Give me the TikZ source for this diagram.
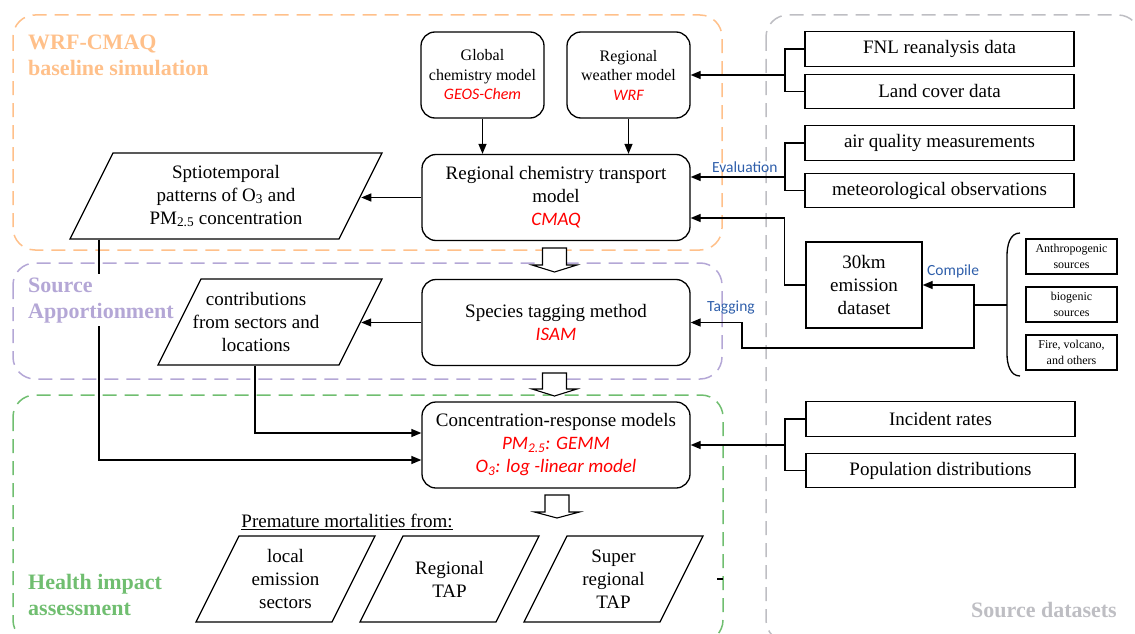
\documentclass[tikz,border=0pt]{standalone}
\usepackage{fontspec}
\setmainfont{Liberation Serif}
\newfontfamily\calibfont{Carlito}
\usetikzlibrary{arrows.meta,shapes.geometric,calc}

\definecolor{wrforange}{RGB}{255,192,138}
\definecolor{sapurple}{RGB}{180,167,214}
\definecolor{hiagreen}{RGB}{112,190,112}
\definecolor{srcgray}{RGB}{190,190,195}
\definecolor{lblblue}{RGB}{46,94,170}

% red italic model names
\newcommand\mdl[1]{{\color{red}\calibfont\itshape #1}}
% fixed-height text block for the parallelograms (width of the inner box)
\newcommand\paratext[2]{\parbox[c][86pt][c]{#1}{\centering #2}}

% hollow block arrow: centre x, top y, head start y, tip y
\newcommand\hollowdown[4]{%
  \draw[line width=1.1pt, fill=white] (#1-12,#2) -- (#1+12,#2) -- (#1+12,#3)
    -- (#1+22.5,#3) -- (#1,#4) -- (#1-22.5,#3) -- (#1-12,#3) -- cycle;}

\tikzset{
  box/.style={draw, line width=1.3pt, inner sep=0pt, align=center,
    font=\fontsize{19}{23}\selectfont},
  roundbox/.style={box, rounded corners=14pt, minimum width=268pt, minimum height=86pt},
  smallround/.style={box, rounded corners=14pt, minimum width=123pt, minimum height=86pt,
    font=\fontsize{16}{19.5}\selectfont},
  databox/.style={box, minimum width=269pt, minimum height=34.5pt},
  srcbox/.style={box, minimum width=91pt, minimum height=35pt,
    font=\fontsize{12}{16}\selectfont},
  para/.style={box, trapezium, trapezium left angle=63.43, trapezium right angle=116.57},
  arr/.style={line width=1.3pt, -{Triangle[length=10pt,width=8pt]}},
  conn/.style={line width=1.3pt},
  groupframe/.style={line width=1.5pt, dash pattern=on 14pt off 8pt, rounded corners=22pt},
  grouptitle/.style={font=\bfseries\fontsize{22}{26}\selectfont, align=left, inner sep=0pt},
  lbl/.style={font=\calibfont\fontsize{15.5}{18}\selectfont, text=lblblue, inner sep=0pt}
}

\begin{document}
\begin{tikzpicture}[x=1pt, y=-1pt]
  \useasboundingbox (0,0) rectangle (1135,634);

  % group frames
  \draw[groupframe, wrforange] (13,15) rectangle (722,250);
  \draw[groupframe, sapurple] (13,263) rectangle (722,379);
  \draw[groupframe, hiagreen] (13,395) rectangle (723,642);
  \draw[groupframe, srcgray] (766,15) rectangle (1140,642);

  % group titles (base = last line)
  \node[grouptitle, text=wrforange, anchor=base west] (twrf) at (28,76) {WRF-CMAQ\\baseline simulation};
  \node[grouptitle, text=hiagreen, anchor=base west] (thia) at (28,615.5) {Health impact\\assessment};
  \node[grouptitle, text=srcgray, anchor=base east] (tsrc) at (1117,617) {Source datasets};

  % model chain
  \node[smallround] (gcm) at (482.5,75) {Global\\chemistry model\\\mdl{GEOS-Chem}};
  \node[smallround] (rwm) at (628.5,75) {Regional\\weather model\\\mdl{WRF}};
  \node[roundbox] (cmaq) at (556,197.5) {Regional chemistry transport\\model\\\mdl{CMAQ}};
  \node[para] (spt) at (226,196)
    {\paratext{226pt}{Sptiotemporal\\patterns of O\textsubscript{3} and\\PM\textsubscript{2.5} concentration}};
  \node[roundbox] (stm) at (556,322.5) {Species tagging method\\\mdl{ISAM}};
  \node[para] (ctb) at (270,322)
    {\paratext{138pt}{\makebox[138pt]{contributions\hspace*{28pt}}\\
      \makebox[138pt]{from sectors and\hspace*{28pt}}\\\makebox[138pt]{locations\hspace*{28pt}}}};
  \node[roundbox] (crm) at (556,445)
    {Concentration-response models\\\mdl{PM\textsubscript{2.5}: GEMM}\\\mdl{O\textsubscript{3}: log -linear model}};

  % mortality outputs
  \node[font=\fontsize{19}{23}\selectfont, inner sep=0pt] (pmf) at (347,522) {\underline{Premature mortalities from:}};
  \node[para] (les) at (285.5,579) {\paratext{93pt}{local\\emission\\sectors}};
  \node[para] (rtap) at (449.5,579) {\paratext{93pt}{Regional\\TAP}};
  \node[para] (stap) at (613.5,579) {\paratext{93pt}{Super\\regional\\TAP}};

  % source datasets
  \node[databox] (fnl) at (939.5,49) {FNL reanalysis data};
  \node[databox] (lcd) at (939.5,91.5) {Land cover data};
  \node[databox] (aqm) at (939.5,143) {air quality measurements};
  \node[databox] (mob) at (939.5,190.5) {meteorological observations};
  \node[box, minimum width=116pt, minimum height=86pt] (emi) at (864,285) {30km\\emission\\dataset};
  \node[srcbox] (ant) at (1071.5,256.5) {Anthropogenic\\sources};
  \node[srcbox] (bio) at (1071.5,304.5) {biogenic\\sources};
  \node[srcbox] (fvo) at (1071.5,352.5) {Fire, volcano,\\and others};
  \node[databox] (inr) at (940.5,419) {Incident rates};
  \node[databox] (pod) at (940.5,470.5) {Population distributions};

  % block arrows between stages
  \hollowdown{554.5}{248}{265}{272}
  \hollowdown{554.5}{373}{389}{396}
  \hollowdown{557}{495}{512}{518}

  % connectors
  \draw[arr] (gcm.south) -- (gcm.south |- cmaq.north);
  \draw[arr] (rwm.south) -- (rwm.south |- cmaq.north);
  \draw[arr] (cmaq.west) -- (cmaq.west -| spt.east);
  \draw[arr] (stm.west) -- (stm.west -| ctb.east);

  \coordinate (jfnl) at (785,75);
  \draw[conn] (fnl.west) -| (jfnl) |- (lcd.west);
  \draw[arr] (jfnl) -- (rwm.east);

  \coordinate (jaqm) at (785,177);
  \draw[conn] (aqm.west) -| (jaqm) |- (mob.west);
  \draw[arr] (jaqm) -- (jaqm -| cmaq.east);
  \node[lbl, anchor=base west] (leval) at (712,172) {Evaluation};

  \draw[arr] (emi.west) -- ++(-21,0) |- ([yshift=-20.5pt]cmaq.east);

  % emission sources brace
  \draw[conn] (1020,233) to[out=180,in=90] (1007,256) -- (1007,354) to[out=-90,in=180] (1020,376);
  \coordinate (jbrc) at (1007,305);
  \coordinate (jcmp) at (974,305);
  \coordinate (jtag) at (742,348);
  \draw[arr] (jbrc) -- (jcmp) |- (emi.east);
  \draw[arr] (jcmp) |- (jtag) |- (stm.east);
  \node[lbl, anchor=base west] (lcmp) at (927,275) {Compile};
  \node[lbl, anchor=base west] (ltag) at (707,311) {Tagging};

  \coordinate (jinr) at (785,445);
  \draw[conn] (inr.west) -| (jinr) |- (pod.west);
  \draw[arr] (jinr) -- (crm.east);

  \draw[arr] ([xshift=98pt]ctb.bottom left corner) |- ([yshift=12pt]crm.west);
  \draw[arr] ([xshift=30pt]spt.bottom left corner) |- ([yshift=-15pt]crm.west);

  \draw[conn] (717,579) -- (723,579);

  % label drawn last so it masks the line behind it
  \node[grouptitle, text=sapurple, anchor=base west, fill=white, inner sep=3pt] (tsa) at (25,318) {Source\\Apportionment};
\end{tikzpicture}
\end{document}
